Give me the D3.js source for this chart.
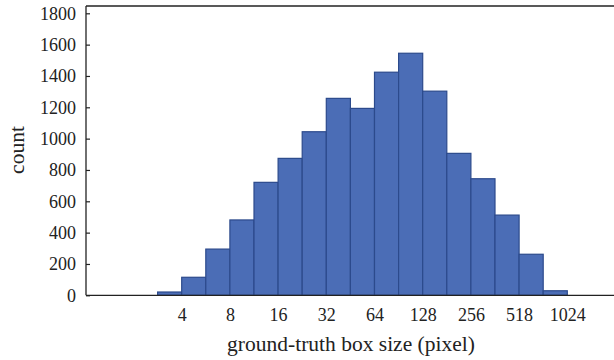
<!DOCTYPE html>
<html>
<head>
<meta charset="utf-8">
<script src="https://cdn.jsdelivr.net/npm/d3@7"></script>
<style>
body { margin: 0; background: #fff; }
svg { display: block; font-family: "Liberation Serif", "DejaVu Serif", serif; }
</style>
</head>
<body>
<script>
// half-octave bins, start of each bin in log2(pixel)
var binStart = [1.5, 2, 2.5, 3, 3.5, 4, 4.5, 5, 5.5, 6, 6.5, 7, 7.5, 8, 8.5, 9, 9.5];
var counts = [21, 115, 295, 481, 721, 874, 1044, 1257, 1193, 1424, 1545, 1303, 906, 744, 512, 262, 29];
var xTickPos = [2, 3, 4, 5, 6, 7, 8, 9, 10];
var xTickLabels = ["4", "8", "16", "32", "64", "128", "256", "518", "1024"];
var yTicks = [0, 200, 400, 600, 800, 1000, 1200, 1400, 1600, 1800];

var w = 614, h = 360;
var plotLeft = 86, plotTop = 6, plotBottom = 295.3;

var svg = d3.select("body").append("svg").attr("width", w).attr("height", h);

var x = d3.scaleLinear().domain([0, 11]).range([85.3, 615.5]);
var y = d3.scaleLinear().domain([0, 1800]).range([plotBottom, 13.3]);

// bars
svg.selectAll("rect.bar").data(counts).enter().append("rect")
    .attr("class", "bar")
    .attr("x", function(d, i) { return x(binStart[i]); })
    .attr("y", function(d) { return y(d); })
    .attr("width", function(d, i) { return x(binStart[i] + 0.5) - x(binStart[i]); })
    .attr("height", function(d) { return y(0) - y(d); })
    .attr("fill", "#4b6db6")
    .attr("stroke", "#2c4a8c")
    .attr("stroke-width", 1.2);

// frame: top line, bottom axis, left axis
var frameColor = "#222";
svg.append("line").attr("x1", plotLeft).attr("x2", w).attr("y1", plotTop).attr("y2", plotTop)
    .attr("stroke", frameColor).attr("stroke-width", 1.3);
svg.append("line").attr("x1", plotLeft).attr("x2", w).attr("y1", plotBottom).attr("y2", plotBottom)
    .attr("stroke", frameColor).attr("stroke-width", 1.3);

var yAxis = d3.axisRight(y).tickValues(yTicks).tickSize(4).tickFormat("");
var gy = svg.append("g").attr("transform", "translate(" + plotLeft + ",0)").call(yAxis);
gy.select(".domain").attr("d", "M0," + plotTop + "V" + plotBottom)
    .attr("stroke", frameColor).attr("stroke-width", 1.3);
gy.selectAll(".tick line").attr("stroke", frameColor).attr("stroke-width", 1.2);

svg.selectAll("text.ylab").data(yTicks).enter().append("text")
    .attr("class", "ylab")
    .attr("x", 76)
    .attr("y", function(d) { return y(d); })
    .attr("dy", "0.35em")
    .attr("text-anchor", "end")
    .attr("font-size", 18)
    .attr("fill", "#222")
    .text(function(d) { return d; });

var xAxis = d3.axisBottom(x).tickValues(xTickPos).tickSize(0)
    .tickFormat(function(d, i) { return xTickLabels[i]; });
var gx = svg.append("g").attr("transform", "translate(0," + plotBottom + ")").call(xAxis);
gx.select(".domain").remove();
gx.selectAll(".tick text")
    .attr("y", 13)
    .attr("font-family", "Liberation Serif, DejaVu Serif, serif")
    .attr("font-size", 18)
    .attr("fill", "#222");

svg.append("text")
    .attr("x", 351)
    .attr("y", 351)
    .attr("text-anchor", "middle")
    .attr("font-size", 21.5)
    .attr("fill", "#222")
    .text("ground-truth box size (pixel)");

svg.append("text")
    .attr("transform", "translate(24,150) rotate(-90)")
    .attr("text-anchor", "middle")
    .attr("font-size", 21.5)
    .attr("fill", "#222")
    .text("count");
</script>
</body>
</html>
